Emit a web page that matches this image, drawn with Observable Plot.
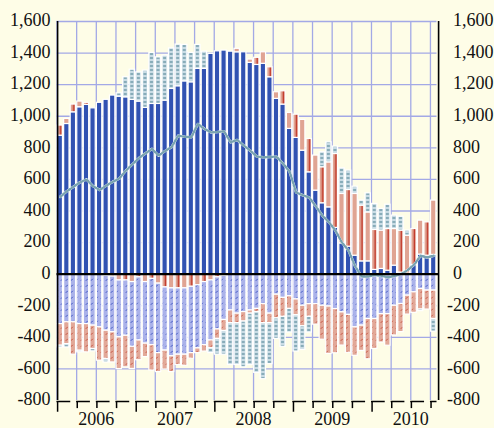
<!DOCTYPE html>
<html>
<head>
<meta charset="utf-8">
<script src="https://cdn.jsdelivr.net/npm/d3@7"></script>
<script src="https://cdn.jsdelivr.net/npm/@observablehq/plot@0.6"></script>
<style>
  html, body { margin: 0; padding: 0; background: #fefde7; }
  #chart { width: 494px; height: 428px; overflow: hidden; }
</style>
</head>
<body>
<div id="chart"></div>
<script>
// Months Jan 2006 .. Oct 2010 (58 bars)
const months = d3.utcMonth.range(new Date(Date.UTC(2006, 0, 1)), new Date(Date.UTC(2010, 10, 1)));
const years = ["2006", "2007", "2008", "2009", "2010"];
const yTicks = [-800, -600, -400, -200, 0, 200, 400, 600, 800, 1000, 1200, 1400, 1600];

// Series (stack order: blue solid, red, blue hatched, red hatched, teal)
const blueSolid = [877,951,1025,1057,1072,1050,1085,1104,1131,1124,
  1120,1104,1093,1053,1078,1078,1099,1173,1190,1221,
  1215,1300,1300,1395,1411,1416,1409,1405,1405,1338,
  1325,1332,1247,1110,1074,920,863,782,645,529,
  449,423,293,195,174,117,81,81,27,33,
  22,54,10,3,58,124,117,122];
const red = [64,32,49,36,13,0,0,-10,-15,-40,
  -40,-50,-20,-50,-30,-60,-84,-90,-90,-90,
  -80,-70,-50,-40,-20,-10,0,22,0,21,
  45,73,63,42,84,101,147,195,211,222,
  228,285,468,313,359,391,353,310,253,243,
  264,232,266,241,228,215,211,344];
const blueHatch = [-316,-305,-305,-316,-316,-326,-337,-348,-353,-360,
  -350,-410,-400,-390,-420,-440,-400,-430,-420,-420,
  -420,-400,-400,-380,-330,-280,-230,-250,-240,-230,
  -220,-190,-250,-130,-150,-140,-160,-200,-190,-190,
  -200,-205,-221,-242,-258,-337,-326,-284,-284,-253,
  -253,-200,-189,-136,-115,-94,-104,-104];
const redHatch = [-137,-138,-205,-169,-179,-148,-211,-179,-191,-201,
  -200,-140,-125,-85,-160,-120,-120,-100,-65,-70,
  -35,-30,-40,-50,-60,-70,-80,-60,-60,-20,
  -20,-120,-60,-150,-120,-80,-100,-130,-80,-130,
  -215,-300,-280,-210,-240,-180,-160,-255,-190,-180,
  -200,-188,-178,-120,-130,-130,-120,-180];
const teal = [-11,-21,0,-10,0,-15,0,-22,0,21,
  127,191,185,236,323,295,285,257,264,231,
  186,152,109,-30,-100,-150,-265,-265,-290,-325,
  -385,-355,-260,-130,-190,-150,-230,-150,-100,0,
  95,127,47,162,123,46,32,121,165,137,
  154,85,88,32,0,-10,0,-80];
const netLine = [490,525,553,581,600,557,533,560,585,605,
  655,695,735,765,793,751,780,805,877,870,
  867,951,920,898,900,905,835,850,815,782,
  745,740,742,744,700,650,518,500,486,430,
  371,330,276,200,150,50,-15,-15,-5,-10,
  -20,-12,0,25,60,117,106,117];

const seriesDefs = [
  {key: "blueSolid", values: blueSolid, fill: "#3152b2"},
  {key: "red", values: red, fill: "url(#pRed)"},
  {key: "blueHatch", values: blueHatch, fill: "url(#pBlueH)"},
  {key: "redHatch", values: redHatch, fill: "url(#pRedH)"},
  {key: "teal", values: teal, fill: "url(#pTeal)"}
];
const rows = [];
for (const s of seriesDefs) {
  s.values.forEach((v, i) => {
    if (v !== 0) rows.push({s: s.key, x1: i, x2: i + 1, v, fill: s.fill, month: months[i]});
  });
}
const lineRows = netLine.map((v, i) => ({x: i + 0.5, v}));
const quarters = d3.range(0, months.length, 3);
const yearStarts = d3.range(0, months.length, 12);

const fmt = d => d < 0 ? "-" + d3.format(",")(-d) : d3.format(",")(d);
const grid = "#a3a9e6";
const font = "'Liberation Serif', 'Times New Roman', serif";

const plot = Plot.plot({
  width: 494, height: 428,
  marginLeft: 56.5, marginRight: 57.5, marginTop: 21, marginBottom: 28,
  x: {domain: [0, months.length], axis: null},
  y: {domain: [-800, 1600], axis: null},
  color: {type: "identity"},
  style: {background: "#fefde7", fontFamily: font, fontSize: "18px", color: "#111", overflow: "visible"},
  marks: [
    Plot.ruleY(yTicks.filter(t => t > -800), {y: d => d, stroke: grid, strokeWidth: 1.3}),
    Plot.ruleX(quarters, {x: d => d, y1: -800, y2: 1600, stroke: grid, strokeWidth: 1.3}),
    Plot.rectY(rows, {x1: "x1", x2: "x2", y: "v", z: "s", fill: "fill", stroke: "white", strokeWidth: 1.2, insetLeft: 0.6, insetRight: 0.6}),
    Plot.line(lineRows, {x: "x", y: "v", stroke: "white", strokeWidth: 2.6}),
    Plot.line(lineRows, {x: "x", y: "v", stroke: "#78a2b0", strokeWidth: 2.4, strokeDasharray: "2,1.6"}),
    Plot.ruleY([0], {y: d => d, stroke: "#000", strokeWidth: 2.2, insetRight: -2}),
    Plot.ruleX([0], {x: d => d, y1: -800, y2: 1600, stroke: "#000", strokeWidth: 1.6, dx: 0.6}),
    Plot.ruleX([months.length], {x: d => d, y1: -800, y2: 1600, stroke: "#000", strokeWidth: 1.6, dx: 1.6}),
    // bottom axis: bracket-shaped quarter ticks
    Plot.ruleY(quarters, {y: -800, x1: d => d, x2: d => Math.min(d + 2.1, months.length), stroke: "#000", strokeWidth: 1.5, dy: 1}),
    Plot.ruleX(quarters, {x: d => d, y1: -800, y2: d => yearStarts.includes(d) ? -868 : -845, stroke: "#000", strokeWidth: 1.5, dx: 0.6, dy: 1}),
    // y tick labels
    Plot.text(yTicks, {y: d => d, text: fmt, frameAnchor: "left", textAnchor: "end", dx: -6.5, dy: -1, fontSize: 18, fill: "#111"}),
    Plot.text(yTicks.filter(t => t >= 0), {y: d => d, text: fmt, frameAnchor: "right", textAnchor: "start", dx: 16, dy: -1, fontSize: 18, fill: "#111"}),
    Plot.text(yTicks.filter(t => t < 0), {y: d => d, text: fmt, frameAnchor: "right", textAnchor: "start", dx: 10, dy: -1, fontSize: 18, fill: "#111"}),
    // year labels
    Plot.text(years, {x: (d, i) => i * 12 + 6, y: -800, text: d => d, lineAnchor: "top", dy: 12, fontSize: 18, fill: "#111"})
  ]
});

// Fill patterns
const svg = d3.select(plot);
const defs = svg.insert("defs", ":first-child");
const step = (494 - 56.5 - 57.5) / months.length;
const x0 = 56.5;
const pRed = defs.append("pattern").attr("id", "pRed").attr("patternUnits", "userSpaceOnUse")
  .attr("x", x0).attr("y", 0).attr("width", step * 2).attr("height", 10);
pRed.append("rect").attr("width", step * 2).attr("height", 10).attr("fill", "#e0a493");
pRed.append("rect").attr("x", 3.4).attr("width", 1.6).attr("height", 10).attr("fill", "#c23b2c");

const pBlueH = defs.append("pattern").attr("id", "pBlueH").attr("patternUnits", "userSpaceOnUse")
  .attr("width", 5).attr("height", 6);
pBlueH.append("rect").attr("width", 5).attr("height", 6).attr("fill", "#aab2ea");
pBlueH.append("path").attr("d", "M0.8,4.8L2.8,2.8").attr("stroke", "#3f55c0").attr("stroke-width", 1);

const pRedH = defs.append("pattern").attr("id", "pRedH").attr("patternUnits", "userSpaceOnUse")
  .attr("width", 5).attr("height", 6);
pRedH.append("rect").attr("width", 5).attr("height", 6).attr("fill", "#e2a898");
pRedH.append("path").attr("d", "M0.8,4.8L2.8,2.8").attr("stroke", "#c4503f").attr("stroke-width", 1);

const pTeal = defs.append("pattern").attr("id", "pTeal").attr("patternUnits", "userSpaceOnUse")
  .attr("x", x0).attr("y", 0).attr("width", step).attr("height", 4);
pTeal.append("rect").attr("width", step).attr("height", 4).attr("fill", "#c9dce5");
pTeal.append("rect").attr("x", step / 2 - 1.6).attr("y", 1.4).attr("width", 3.2).attr("height", 1.2).attr("fill", "#5d8d9d");

document.getElementById("chart").appendChild(plot);
</script>
</body>
</html>
